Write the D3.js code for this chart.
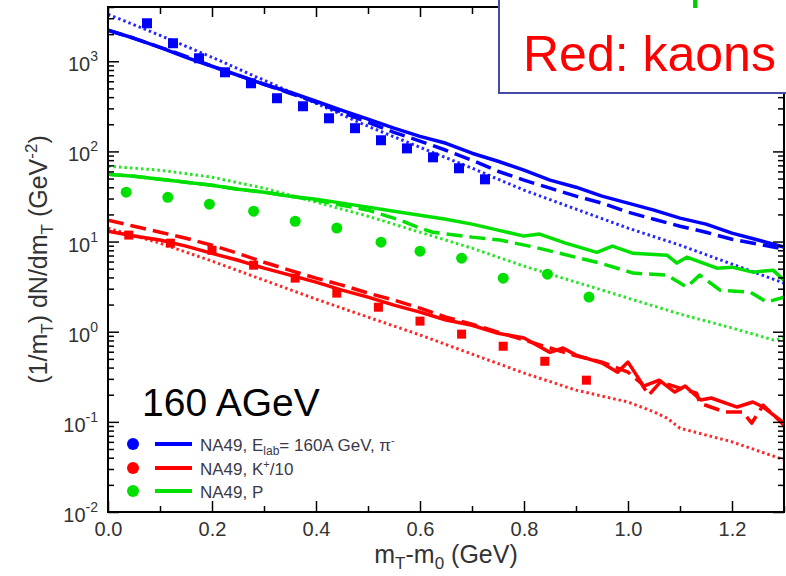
<!DOCTYPE html>
<html><head><meta charset="utf-8">
<script src="https://cdn.jsdelivr.net/npm/d3@7"></script>
<style>body{margin:0;background:#fff;}svg{display:block;}</style>
</head><body>
<svg id="c" width="786" height="576"></svg>
<script>
// ---------- data ----------
const xMajorTicks = [0, 0.2, 0.4, 0.6, 0.8, 1.0, 1.2];
const xMinorTicks = [0.1, 0.3, 0.5, 0.7, 0.9, 1.1, 1.3];
const xTickLabels = ["0.0", "0.2", "0.4", "0.6", "0.8", "1.0", "1.2"];
const yMajorTicks = [1e-2, 1e-1, 1, 10, 100, 1000];
const yExponents = ["-2", "-1", "0", "1", "2", "3"];

// data points
const pionDataM = [0.075,0.125,0.175,0.225,0.275,0.325,0.375,0.425,0.475,0.525,0.575,0.625,0.675,0.725];
const pionDataV = [2640,1585,1080,755,570,389,317,233,181,133,108,86,65,49];
const kaonDataM = [0.04,0.12,0.20,0.28,0.36,0.44,0.52,0.60,0.68,0.76,0.84,0.92];
const kaonDataV = [11.8,9.6,8.0,5.47,3.93,2.68,1.87,1.31,0.94,0.69,0.47,0.29];
const protonDataM = [0.035,0.115,0.195,0.28,0.36,0.44,0.525,0.60,0.68,0.76,0.845,0.925];
const protonDataV = [35.3,31.0,26.0,21.7,16.8,14.1,9.85,7.83,6.55,3.93,4.35,2.42];

// model curves
const pionSolidM = [0,0.05,0.1,0.15,0.2,0.25,0.3,0.35,0.4,0.45,0.5,0.55,0.6,0.65,0.7,0.75,0.8,0.85,0.9,0.95,1.0,1.05,1.1,1.15,1.2,1.25,1.3];
const pionSolidV = [2207,1799,1429,1107,881,700,556,453,360,286,228,181,147,123,95.5,77.8,61.9,48.0,40.1,31.9,26.7,22.3,18.2,15.6,12.4,10.4,8.67];
const pionDashedM = [0,0.05,0.1,0.15,0.2,0.25,0.3,0.35,0.4,0.45,0.5,0.55,0.6,0.65,0.7,0.75,0.8,0.85,0.9,0.95,1.0,1.05,1.1,1.15,1.2,1.25,1.3];
const pionDashedV = [2207,1799,1429,1135,881,700,556,442,351,272,211,163,130,103,79.8,60.3,48.0,39.1,31.9,26.7,21.2,17.7,14.8,12.7,10.6,9.36,8.24];
const pionDottedM = [0,0.1,0.2,0.3,0.4,0.5,0.6,0.7,0.8,0.9,1.0,1.1,1.2,1.3];
const pionDottedV = [3319,1941,1107,616,342,190,111,65.2,37.2,22.9,14.1,9.12,5.62,3.46];

const kaonSolidM = [0,0.05,0.1,0.15,0.2,0.25,0.3,0.35,0.4,0.45,0.5,0.55,0.6,0.65,0.7,0.75,0.8,0.85,0.875,0.9,0.95,0.98,1.0,1.03,1.06,1.09,1.11,1.14,1.16,1.21,1.24,1.26,1.3];
const kaonSolidV = [13.0,11.5,10.4,8.9,7.4,6.2,5.07,4.24,3.55,2.89,2.42,1.97,1.65,1.35,1.18,0.96,0.85,0.59,0.66,0.55,0.45,0.356,0.46,0.249,0.29,0.214,0.249,0.175,0.184,0.146,0.166,0.146,0.097];
const kaonDashedM = [0,0.05,0.1,0.15,0.2,0.25,0.3,0.35,0.4,0.45,0.5,0.55,0.6,0.65,0.7,0.75,0.8,0.85,0.9,0.95,1.0,1.025,1.04,1.062,1.1,1.132,1.138,1.186,1.22,1.238,1.26,1.3];
const kaonDashedV = [17.3,14.8,12.7,10.9,9.1,7.4,5.9,4.8,3.93,3.29,2.68,2.24,1.83,1.45,1.21,0.99,0.81,0.66,0.54,0.46,0.356,0.269,0.198,0.276,0.237,0.208,0.161,0.129,0.129,0.097,0.153,0.092];
const kaonDottedM = [0,0.1,0.2,0.3,0.4,0.5,0.6,0.7,0.8,0.9,1.0,1.05,1.075,1.1,1.2,1.3];
const kaonDottedV = [14.1,9.6,6.07,3.73,2.30,1.45,0.92,0.565,0.348,0.225,0.166,0.129,0.110,0.085,0.060,0.038];

const protonSolidM = [0,0.05,0.1,0.15,0.2,0.25,0.3,0.35,0.4,0.45,0.5,0.55,0.6,0.65,0.7,0.75,0.8,0.83,0.88,0.94,0.97,1.01,1.075,1.094,1.113,1.171,1.2,1.24,1.279,1.3];
const protonSolidV = [55.9,53.1,49.2,45.6,42.2,38.1,35.3,31.9,29.5,26.7,24.1,21.7,19.6,17.7,15.6,13.4,11.5,12.1,9.6,7.6,8.9,7.4,7.06,5.77,6.71,5.07,5.20,4.58,4.82,3.73];
const protonDashedM = [0,0.05,0.1,0.15,0.2,0.25,0.3,0.35,0.4,0.45,0.5,0.562,0.6,0.625,0.7,0.754,0.82,0.946,1.01,1.075,1.113,1.138,1.177,1.235,1.267,1.3];
const protonDashedV = [55.9,53.1,49.2,45.6,42.2,38.1,35.3,31.9,28.8,25.3,22.3,17.3,14.1,12.7,11.2,10.4,8.67,5.77,4.47,4.24,3.12,4.24,2.89,2.75,2.13,2.42];
const protonDottedM = [0,0.1,0.2,0.3,0.4,0.5,0.6,0.7,0.8,0.9,1.0,1.1,1.2,1.28,1.3];
const protonDottedV = [68.5,61.9,51.8,39.1,27.4,19.1,12.7,8.45,5.34,3.55,2.36,1.57,1.10,0.81,0.85];

const legendLabels = ["NA49, E|lab|= 160A GeV, π^-", "NA49, K^+/10", "NA49, P"];
const boxLines = ["Green: protons", "Red: kaons"];

// ---------- drawing ----------
const BLUE = "#0000ff", RED = "#ff0000", GREEN = "#00e000";
const svg = d3.select("#c");
const L = 108, R = 784, T = 7, B = 512;
const x = d3.scaleLinear().domain([0, 1.3]).range([L, R]);
const y = d3.scaleLog().domain([0.01, 4000]).range([B, T]);
const font = "'Liberation Sans', Arial, sans-serif";
const zip = (a, b) => a.map((d, i) => [d, b[i]]);

svg.append("defs").append("clipPath").attr("id", "clip")
  .append("rect").attr("x", L).attr("y", T).attr("width", R - L).attr("height", B - T);

const plot = svg.append("g").attr("clip-path", "url(#clip)");
const line = d3.line().x(d => x(d[0])).y(d => y(d[1]));

function curve(m, v, color, style) {
  const p = plot.append("path").datum(zip(m, v)).attr("d", line)
    .attr("fill", "none").attr("stroke", color).attr("stroke-linejoin", "round");
  if (style === "solid") p.attr("stroke-width", 3.5);
  if (style === "dashed") p.attr("stroke-width", 3.5).attr("stroke-dasharray", "16,7");
  if (style === "dotted") p.attr("stroke-width", 3).attr("stroke-dasharray", "2.5,3").attr("opacity", 0.85);
}
curve(pionDottedM, pionDottedV, BLUE, "dotted");
curve(pionDashedM, pionDashedV, BLUE, "dashed");
curve(pionSolidM, pionSolidV, BLUE, "solid");
curve(protonDottedM, protonDottedV, GREEN, "dotted");
curve(protonDashedM, protonDashedV, GREEN, "dashed");
curve(protonSolidM, protonSolidV, GREEN, "solid");
curve(kaonDottedM, kaonDottedV, RED, "dotted");
curve(kaonDashedM, kaonDashedV, RED, "dashed");
curve(kaonSolidM, kaonSolidV, RED, "solid");

plot.selectAll(".pi").data(zip(pionDataM, pionDataV)).enter().append("rect")
  .attr("x", d => x(d[0]) - 5).attr("y", d => y(d[1]) - 5).attr("width", 10).attr("height", 10).attr("fill", BLUE);
plot.selectAll(".ka").data(zip(kaonDataM, kaonDataV)).enter().append("rect")
  .attr("x", d => x(d[0]) - 4.5).attr("y", d => y(d[1]) - 4.5).attr("width", 9).attr("height", 9).attr("fill", RED);
plot.selectAll(".pr").data(zip(protonDataM, protonDataV)).enter().append("circle")
  .attr("cx", d => x(d[0])).attr("cy", d => y(d[1])).attr("r", 5.5).attr("fill", GREEN);

// ---------- axes ----------
const axes = svg.append("g");
function styleAxis(g) {
  g.select(".domain").remove();
  g.selectAll("line").attr("stroke", "#000").attr("stroke-width", 1.5);
  g.selectAll("text").attr("font-family", font).attr("font-size", 20).attr("fill", "#333");
}
const yMinor = [];
[1e-2, 1e-1, 1, 10, 100, 1000].forEach(b => { for (let k = 2; k <= 9; k++) { const v = b * k; if (v <= 4000) yMinor.push(v); } });

// bottom
axes.append("g").attr("transform", `translate(0,${B})`)
  .call(d3.axisBottom(x).tickValues(xMajorTicks).tickSize(-11).tickPadding(10).tickFormat((d, i) => xTickLabels[i])).call(styleAxis);
axes.append("g").attr("transform", `translate(0,${B})`)
  .call(d3.axisBottom(x).tickValues(xMinorTicks).tickSize(-6).tickFormat("")).call(styleAxis);
// top
axes.append("g").attr("transform", `translate(0,${T})`)
  .call(d3.axisTop(x).tickValues(xMajorTicks).tickSize(-10).tickFormat("")).call(styleAxis);
axes.append("g").attr("transform", `translate(0,${T})`)
  .call(d3.axisTop(x).tickValues(xMinorTicks).tickSize(-7).tickFormat("")).call(styleAxis);
// left
axes.append("g").attr("transform", `translate(${L},0)`)
  .call(d3.axisLeft(y).tickValues(yMajorTicks).tickSize(-11).tickFormat("")).call(styleAxis);
axes.append("g").attr("transform", `translate(${L},0)`)
  .call(d3.axisLeft(y).tickValues(yMinor).tickSize(-6).tickFormat("")).call(styleAxis);
// right
axes.append("g").attr("transform", `translate(${R},0)`)
  .call(d3.axisRight(y).tickValues(yMajorTicks).tickSize(-11).tickFormat("")).call(styleAxis);
axes.append("g").attr("transform", `translate(${R},0)`)
  .call(d3.axisRight(y).tickValues(yMinor).tickSize(-6).tickFormat("")).call(styleAxis);

// y tick labels with superscripts
yMajorTicks.forEach((v, i) => {
  const t = axes.append("text").attr("x", 98).attr("y", y(v) + 10)
    .attr("text-anchor", "end").attr("font-family", font).attr("font-size", 20).attr("fill", "#333");
  t.append("tspan").text("10");
  t.append("tspan").attr("dy", -10).attr("font-size", 14).text(yExponents[i]);
});

// frame
axes.append("rect").attr("x", L).attr("y", T).attr("width", R - L).attr("height", B - T)
  .attr("fill", "none").attr("stroke", "#000").attr("stroke-width", 2);

// axis titles
const xt = svg.append("text").attr("x", (L + R) / 2).attr("y", 563).attr("text-anchor", "middle")
  .attr("font-family", font).attr("font-size", 25).attr("fill", "#333");
xt.append("tspan").text("m");
xt.append("tspan").attr("dy", 6).attr("font-size", 17).text("T");
xt.append("tspan").attr("dy", -6).text("-m");
xt.append("tspan").attr("dy", 6).attr("font-size", 17).text("0");
xt.append("tspan").attr("dy", -6).text(" (GeV)");

const yt = svg.append("text").attr("transform", `translate(47,${(T + B) / 2}) rotate(-90)`)
  .attr("text-anchor", "middle").attr("font-family", font).attr("font-size", 25).attr("fill", "#333");
yt.append("tspan").text("(1/m");
yt.append("tspan").attr("dy", 6).attr("font-size", 17).text("T");
yt.append("tspan").attr("dy", -6).text(") dN/dm");
yt.append("tspan").attr("dy", 6).attr("font-size", 17).text("T");
yt.append("tspan").attr("dy", -6).text(" (GeV");
yt.append("tspan").attr("dy", -10).attr("font-size", 17).text("-2");
yt.append("tspan").attr("dy", 10).text(")");

// energy label
svg.append("text").attr("x", 142).attr("y", 416).attr("font-family", font).attr("font-size", 39)
  .attr("fill", "#000").text("160 AGeV");

// legend
const legColors = [BLUE, RED, GREEN];
const legY = [444, 468, 491];
legendLabels.forEach((lab, i) => {
  svg.append("circle").attr("cx", 133).attr("cy", legY[i]).attr("r", 6).attr("fill", legColors[i]);
  svg.append("line").attr("x1", 155).attr("x2", 192).attr("y1", legY[i]).attr("y2", legY[i])
    .attr("stroke", legColors[i]).attr("stroke-width", 4);
  const t = svg.append("text").attr("x", 200).attr("y", legY[i] + 7).attr("font-family", font)
    .attr("font-size", 17).attr("fill", "#3a3a4a");
  const re = /\|([^|]+)\||\^(.)/g;
  let last = 0, m, shift = 0;
  while ((m = re.exec(lab)) !== null) {
    if (m.index > last) { t.append("tspan").attr("dy", -shift).text(lab.slice(last, m.index)); shift = 0; }
    if (m[1]) { t.append("tspan").attr("dy", 4 - shift).attr("font-size", 12).text(m[1]); shift = 4; }
    else { t.append("tspan").attr("dy", -7 - shift).attr("font-size", 11).text(m[2]); shift = -7; }
    last = re.lastIndex;
  }
  if (last < lab.length) t.append("tspan").attr("dy", -shift).text(lab.slice(last));
});

// top-right text box
svg.append("rect").attr("x", 499).attr("y", -80).attr("width", 320).attr("height", 173)
  .attr("fill", "#fff").attr("stroke", "#4848a8").attr("stroke-width", 2);
svg.append("text").attr("x", 523).attr("y", -2).attr("font-family", font).attr("font-size", 50)
  .attr("fill", "#00cc00").text(boxLines[0]);
svg.append("text").attr("x", 523).attr("y", 71).attr("font-family", font).attr("font-size", 50)
  .attr("fill", "#ff0000").text(boxLines[1]);
</script>
</body></html>
